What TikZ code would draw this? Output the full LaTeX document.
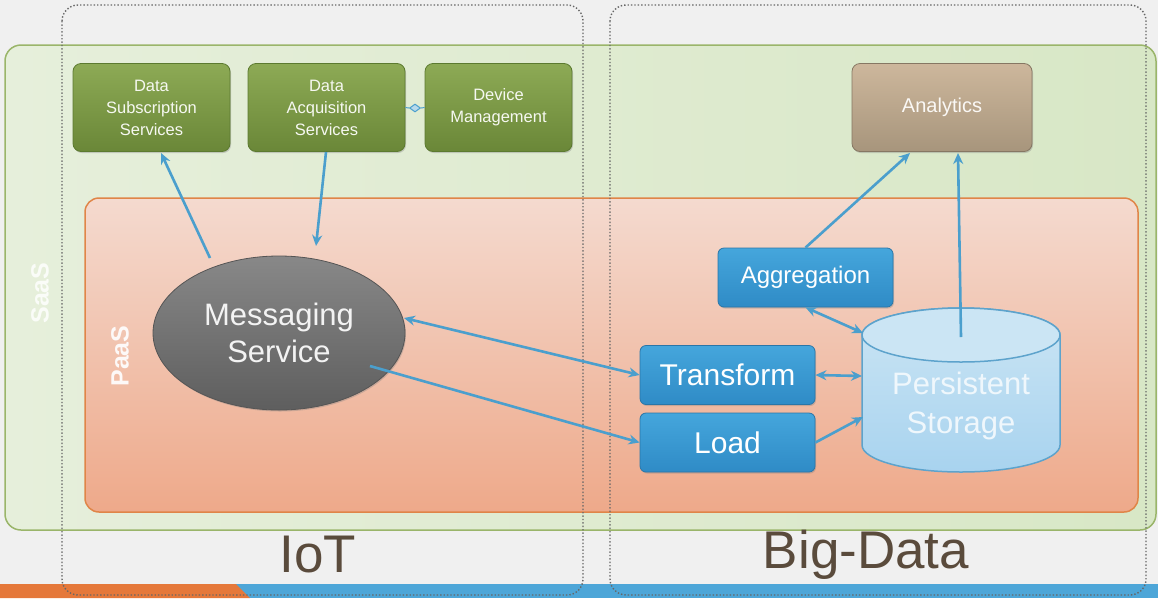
\documentclass[tikz,border=0pt]{standalone}
\usepackage{fontspec}
\setmainfont{Liberation Sans}
\usetikzlibrary{arrows.meta,shapes.geometric,shadows}
\definecolor{bgc}{HTML}{F0F0F0}
\definecolor{saasfill}{HTML}{E6EFDB}
\definecolor{saasfillb}{HTML}{D8E7C6}
\definecolor{saasline}{HTML}{9AB56A}
\definecolor{paastop}{HTML}{F4DACF}
\definecolor{paasbot}{HTML}{EEA98A}
\definecolor{paasline}{HTML}{E08548}
\definecolor{gtop}{HTML}{8DAA55}
\definecolor{gbot}{HTML}{6A8738}
\definecolor{gline}{HTML}{5C7A30}
\definecolor{atop}{HTML}{CDB79C}
\definecolor{abot}{HTML}{A7957C}
\definecolor{btop}{HTML}{45A6DC}
\definecolor{bbot}{HTML}{2F8BC6}
\definecolor{bline}{HTML}{2A76A8}
\definecolor{etop}{HTML}{888888}
\definecolor{ebot}{HTML}{5E5E5E}
\definecolor{ctop}{HTML}{CBE5F4}
\definecolor{cbot}{HTML}{A8D3EF}
\definecolor{cline}{HTML}{5DA3CC}
\definecolor{arr}{HTML}{4B9FCD}
\definecolor{lbl}{HTML}{5A4B3C}
\definecolor{orangebar}{HTML}{E5783A}
\definecolor{bluebar}{HTML}{4DA6D8}
\tikzset{
  gbox/.style={rounded corners=8pt, draw=gline, line width=0.8pt, top color=gtop, bottom color=gbot,
    minimum width=157pt, minimum height=88pt, align=center, text=white!92!gtop,
    font=\fontsize{16.5}{22}\selectfont, drop shadow={opacity=0.35,shadow xshift=1pt,shadow yshift=-1.5pt}},
  bbox/.style={rounded corners=6pt, draw=bline, line width=0.8pt, top color=btop, bottom color=bbot,
    minimum width=175pt, minimum height=59pt, align=center, text=white,
    font=\fontsize{30}{32}\selectfont, drop shadow={opacity=0.35,shadow xshift=1pt,shadow yshift=-1.5pt}},
  conn/.style={draw=arr, line width=2.6pt, -{Stealth[length=11pt,width=10pt]}},
  bconn/.style={draw=arr, line width=2.6pt, {Stealth[length=11pt,width=10pt]}-{Stealth[length=11pt,width=10pt]}},
  area/.style={dotted, draw=black!60, line width=1.4pt, rounded corners=16pt},
  biglbl/.style={text=lbl, font=\fontsize{53}{56}\selectfont},
  sidelbl/.style={text=white, font=\bfseries\fontsize{25}{27}\selectfont, rotate=90}
}
\begin{document}
\begin{tikzpicture}[x=1pt,y=-1pt]
\useasboundingbox (0,0) rectangle (1158,598);
\fill[bgc] (0,0) rectangle (1158,598);
% bottom bar
\fill[bluebar] (0,584) rectangle (1158,598);
\fill[orangebar] (0,584) -- (236,584) -- (250,598) -- (0,598) -- cycle;
% SaaS
\draw[rounded corners=16pt, draw=saasline, line width=1.5pt, left color=saasfill, right color=saasfillb] (5,45) rectangle (1156,530);
% PaaS
\draw[rounded corners=14pt, draw=paasline, line width=1.5pt, top color=paastop, bottom color=paasbot] (85,198) rectangle (1138,512);
\node[sidelbl, text=white!80!saasfill] (saas) at (40,293) {SaaS};
\node[sidelbl, text=white!85!paastop] (paas) at (120,356) {PaaS};
% green boxes
\node[gbox] (ds) at (151.5,107.5) {Data\\Subscription\\Services};
\node[gbox] (da) at (326.5,107.5) {Data\\Acquisition\\Services};
\node[gbox, minimum width=147pt] (dm) at (498.5,107.5) {Device\\Management};
\node[gbox, minimum width=180pt, top color=atop, bottom color=abot, draw=abot!80!black, text=white!90!atop, font=\fontsize{20}{22}\selectfont] (an) at (942,107.5) {Analytics};
% messaging ellipse
\node[ellipse, draw=ebot!90!black, line width=0.8pt, top color=etop, bottom color=ebot, minimum width=252pt, minimum height=154pt, align=center, text=white!90!etop, font=\fontsize{31}{37}\selectfont, drop shadow={opacity=0.35,shadow xshift=1pt,shadow yshift=-1.5pt}] (ms) at (279,333) {Messaging\\Service};
% blue boxes
\node[bbox, font=\fontsize{24}{26}\selectfont] (ag) at (805.5,277.5) {Aggregation};
\node[bbox] (tr) at (727.5,375) {Transform};
\node[bbox] (ld) at (727.5,442.5) {Load};
% cylinder
\draw[draw=cline, line width=1.5pt, top color=ctop, bottom color=cbot] (862,335) -- (862,445) arc[start angle=180, end angle=360, x radius=99pt, y radius=27pt] -- (1060,335) arc[start angle=0, end angle=180, x radius=99pt, y radius=27pt] -- cycle;
\draw[draw=cline, line width=1.5pt, fill=ctop] (961,335) ellipse [x radius=99pt, y radius=27pt];
\node[align=center, text=white!70!ctop, font=\fontsize{31}{39}\selectfont, minimum width=198pt, minimum height=130pt] (ps) at (961,406) {Persistent\\Storage};
\coordinate (pscenter) at (961,337);
\coordinate (psag) at (863,333);
\coordinate (pstr) at (862,376);
\coordinate (psld) at (863,417);
% dotted areas
\draw[area] (62,5) rectangle (583,595);
\draw[area] (610,5) rectangle (1146,595);
\node[biglbl] (iot) at (318,555) {IoT};
\node[biglbl] (bd) at (866,555) {Big-Data};
% connectors
\coordinate (msa) at (210,258);
\coordinate (msb) at (316,246);
\coordinate (msr) at (404,318);
\coordinate (msl) at (370,366);
\draw[conn] (msa) -- (161,153);
\draw[conn] (326,152) -- (msb);
\draw[bconn] (msr) -- (tr.west);
\draw[conn] (msl) -- (ld.west);
\draw[bconn] (tr.east) -- (pstr);
\draw[conn] (ld.east) -- (psld);
\draw[bconn] (ag.south) -- (psag);
\draw[conn] (ag.north) -- (910,153);
\draw[conn] (pscenter) -- (958,153);
% diamond between acquisition and device
\node[diamond, draw=arr, fill=arr!40, line width=1pt, minimum width=11pt, minimum height=8pt, inner sep=0pt] (dia) at (415,108) {};
\draw[draw=arr, line width=1pt] (da.east) -- (dia.west);
\draw[draw=arr, line width=1pt] (dia.east) -- (dm.west);
\end{tikzpicture}
\end{document}
